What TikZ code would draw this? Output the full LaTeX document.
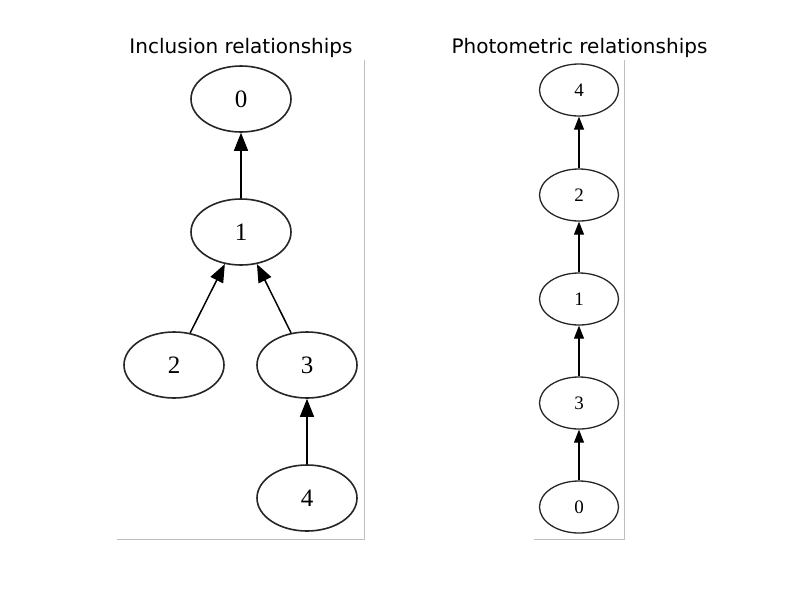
\documentclass[tikz,border=0pt]{standalone}
\usepackage{fontspec}
\setmainfont{Liberation Serif}
\newfontfamily\titlefont{DejaVu Sans}
\usetikzlibrary{shapes.geometric,arrows.meta}
\begin{document}
\begin{tikzpicture}[x=1pt,y=-1pt,
  bignode/.style={ellipse,draw=black!85,line width=1.6pt,minimum width=100pt,minimum height=66pt,inner sep=0pt,font=\fontsize{25}{25}\selectfont},
  smallnode/.style={ellipse,draw=black!85,line width=1.3pt,minimum width=79pt,minimum height=52pt,inner sep=0pt,font=\fontsize{19}{19}\selectfont},
  bigedge/.style={line width=1.5pt,-{Triangle[length=18pt,width=14pt]}},
  smalledge/.style={line width=1.2pt,-{Triangle[length=13pt,width=10pt]}},
  spine/.style={draw=black!25,line width=1pt},
  paneltitle/.style={font=\titlefont\fontsize{20}{24}\selectfont,anchor=base,inner sep=0pt}]
\useasboundingbox[fill=white] (0,0) rectangle (800,600);
% left panel
\node[paneltitle] (t1) at (241,53) {Inclusion relationships};
\coordinate (l1) at (117,539);
\coordinate (l2) at (364.5,539);
\coordinate (l3) at (364.5,60);
\draw[spine] (l1) -- (l2) -- (l3);
\node[bignode] (a0) at (241,99) {0};
\node[bignode] (a1) at (241,232) {1};
\node[bignode] (a2) at (174,365) {2};
\node[bignode] (a3) at (307,365) {3};
\node[bignode] (a4) at (307,498) {4};
\draw[bigedge] (a1) -- (a0);
\draw[bigedge] (a2) -- (a1);
\draw[bigedge] (a3) -- (a1);
\draw[bigedge] (a4) -- (a3);
% right panel
\node[paneltitle] (t2) at (579.5,53) {Photometric relationships};
\coordinate (r1) at (534,539);
\coordinate (r2) at (624.5,539);
\coordinate (r3) at (624.5,60);
\draw[spine] (r1) -- (r2) -- (r3);
\node[smallnode] (b4) at (579,90) {4};
\node[smallnode] (b2) at (579,195) {2};
\node[smallnode] (b1) at (579,299) {1};
\node[smallnode] (b3) at (579,403) {3};
\node[smallnode] (b0) at (579,507) {0};
\draw[smalledge] (b2) -- (b4);
\draw[smalledge] (b1) -- (b2);
\draw[smalledge] (b3) -- (b1);
\draw[smalledge] (b0) -- (b3);
\end{tikzpicture}
\end{document}
